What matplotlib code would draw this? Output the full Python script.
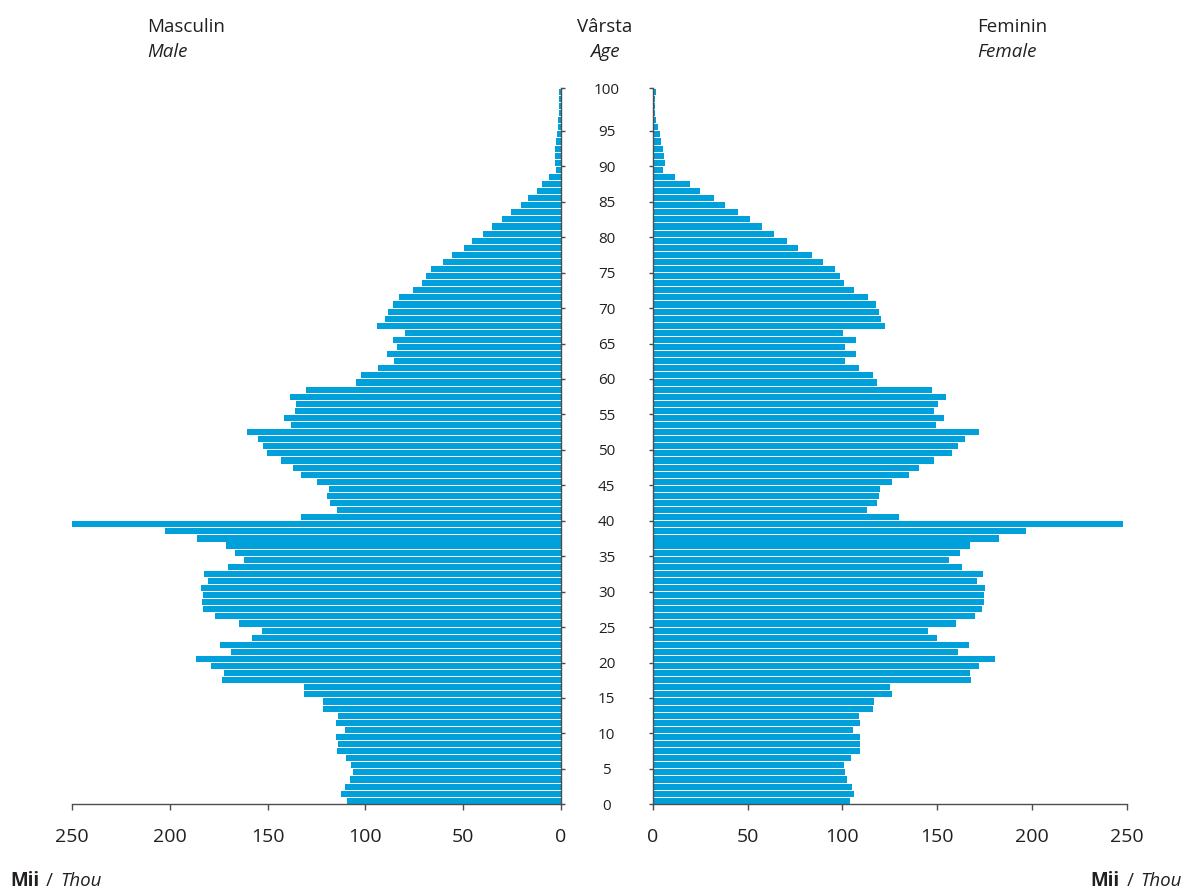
import matplotlib

matplotlib.use("Agg")
import matplotlib.pyplot as plt
import numpy as np

# Population by single year of age (thousands), ages 0..100
ages = list(range(0, 101))

male = [
    109.4, 112.5, 110.6, 108.0, 106.5, 107.3, 109.9, 114.7, 114.2, 115.0,
    110.4, 114.8, 114.2, 121.5, 121.7, 131.4, 131.2, 173.5, 172.4, 179.0,
    186.7, 168.6, 174.4, 157.8, 152.9, 164.8, 176.8, 183.1, 183.8, 182.9,
    184.1, 180.5, 182.4, 170.5, 162.1, 166.7, 171.3, 186.2, 202.6, 250.0,
    132.9, 114.3, 117.9, 119.5, 118.6, 124.7, 132.8, 137.0, 143.2, 150.5,
    152.4, 154.8, 160.6, 138.1, 141.8, 136.0, 135.7, 138.4, 130.4, 104.9,
    102.0, 93.3, 85.2, 88.9, 83.6, 86.0, 79.7, 93.9, 90.1, 88.4,
    86.0, 82.6, 75.8, 71.0, 68.9, 66.2, 60.1, 55.6, 49.7, 45.4,
    39.6, 35.0, 30.0, 25.4, 20.3, 16.6, 12.1, 9.6, 6.0, 2.4,
    3.1, 2.7, 2.7, 2.2, 1.7, 1.4, 1.2, 0.9, 0.7, 0.7,
    0.9,
]

female = [
    104.1, 106.4, 105.1, 102.3, 101.6, 100.9, 104.6, 109.2, 109.4, 109.4,
    105.7, 109.5, 109.0, 116.2, 116.7, 126.1, 125.2, 167.7, 167.4, 172.1,
    180.6, 161.0, 166.7, 150.0, 145.2, 160.2, 169.8, 173.7, 174.9, 174.8,
    175.3, 171.2, 174.4, 163.1, 156.1, 161.9, 167.4, 182.5, 197.1, 247.9,
    130.1, 112.9, 118.1, 119.4, 120.1, 126.4, 135.0, 140.3, 148.4, 158.1,
    161.0, 164.6, 172.1, 149.3, 153.7, 148.4, 150.3, 154.9, 147.2, 118.1,
    116.0, 108.8, 101.6, 107.1, 101.3, 107.4, 100.4, 122.4, 120.4, 119.2,
    117.8, 113.6, 106.2, 101.1, 98.6, 96.2, 90.0, 84.0, 76.5, 70.9,
    64.0, 57.8, 51.3, 44.8, 38.3, 32.3, 24.8, 19.5, 11.8, 5.5,
    6.3, 6.0, 5.6, 4.4, 3.7, 2.6, 1.8, 1.4, 1.1, 1.1,
    1.6,
]

x_ticks = [0, 50, 100, 150, 200, 250]
age_ticks = [0, 5, 10, 15, 20, 25, 30, 35, 40, 45, 50, 55, 60, 65, 70, 75, 80, 85, 90, 95, 101]
age_labels = [str(a) for a in range(0, 101, 5)]

BAR = "#00a1da"
INK = "#231f20"
SPINE = "#4d4d4d"

plt.rcParams["font.family"] = ["Open Sans", "DejaVu Sans"]

W, H = 1184, 890
fig = plt.figure(figsize=(W / 100, H / 100), dpi=100)

ax_l = fig.add_axes([72.3 / W, 85.7 / H, (560.7 - 72.3) / W, 716 / H])
ax_r = fig.add_axes([652.7 / W, 85.7 / H, (1126.7 - 652.7) / W, 716 / H])

y = np.array(ages) + 0.5
ax_l.barh(y, male, height=0.86, color=BAR, linewidth=0)
ax_r.barh(y, female, height=0.86, color=BAR, linewidth=0)

for ax in (ax_l, ax_r):
    ax.set_ylim(0, 101)
    ax.set_xticks(x_ticks)
    ax.set_xticklabels([str(t) for t in x_ticks], fontsize=14, color=INK)
    ax.tick_params(axis="x", direction="out", length=4, width=1, color=SPINE, pad=13)
    ax.set_yticks(age_ticks)
    ax.spines["top"].set_visible(False)
    ax.spines["bottom"].set_color(SPINE)
    ax.spines["bottom"].set_linewidth(1)

ax_l.set_xlim(250, 0)
ax_r.set_xlim(0, 250)

# left panel: spine on the right, age labels centred between panels
ax_l.spines["left"].set_visible(False)
ax_l.spines["right"].set_color(SPINE)
ax_l.spines["right"].set_linewidth(1)
ax_l.yaxis.tick_right()
ax_l.set_yticklabels(age_labels, fontsize=11, color=INK)
ax_l.tick_params(axis="y", direction="out", length=3, width=1, color=SPINE, pad=30)
for lab in ax_l.get_yticklabels():
    lab.set_horizontalalignment("center")

ax_r.spines["right"].set_visible(False)
ax_r.spines["left"].set_color(SPINE)
ax_r.spines["left"].set_linewidth(1)
ax_r.set_yticklabels([])
ax_r.tick_params(axis="y", direction="out", length=3, width=1, color=SPINE)


def fy(py):
    return 1 - py / H


# headers
hdr = dict(fontsize=13.5, color=INK, va="center")
fig.text(147 / W, fy(27), "Masculin", ha="left", **hdr)
fig.text(147 / W, fy(52), "Male", ha="left", style="italic", **hdr)
fig.text(605 / W, fy(27), "Vârsta", ha="center", **hdr)
fig.text(605 / W, fy(52), "Age", ha="center", style="italic", **hdr)
fig.text(977 / W, fy(27), "Feminin", ha="left", **hdr)
fig.text(977 / W, fy(52), "Female", ha="left", style="italic", **hdr)

# unit notes "Mii / Thou" in both bottom corners, pieces laid out on one baseline
renderer = fig.canvas.get_renderer()
pieces = [("Mii", dict(fontweight="bold")), ("\u2009/\u2009", {}), ("Thou", dict(style="italic"))]


def unit_note(x_px, align):
    arts = [fig.text(0, fy(886), s, va="baseline", ha="left", fontsize=13.5,
                     color=INK, **kw) for s, kw in pieces]
    widths = [a.get_window_extent(renderer).width for a in arts]
    x = x_px if align == "left" else x_px - sum(widths) - 8
    for a, w in zip(arts, widths):
        a.set_x(x / W)
        x += w + 4


unit_note(10, "left")
unit_note(1182, "right")

fig.savefig("out.png", dpi=100)
